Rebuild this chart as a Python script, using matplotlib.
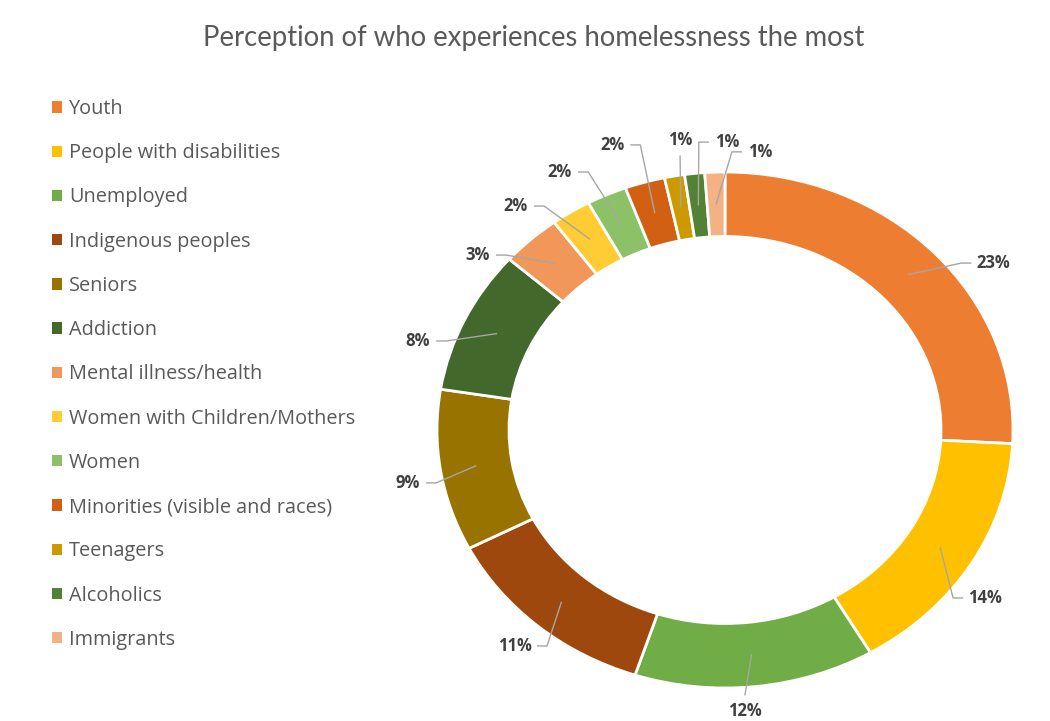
import matplotlib
matplotlib.use("Agg")
import matplotlib.pyplot as plt
from matplotlib.patches import Patch
import numpy as np

categories = ["Youth", "People with disabilities", "Unemployed", "Indigenous peoples",
              "Seniors", "Addiction", "Mental illness/health", "Women with Children/Mothers",
              "Women", "Minorities (visible and races)", "Teenagers", "Alcoholics", "Immigrants"]
values = [23, 14, 12, 11, 9, 8, 3, 2, 2, 2, 1, 1, 1]
labels = [f"{v}%" for v in values]

colors = ["#ED7D31", "#FFC000", "#70AD47", "#9E480E", "#997300", "#43682B", "#F1975A",
          "#FFCD33", "#8CC168", "#D26012", "#CC9A00", "#548235", "#F4B183"]

# label positions (normalized ellipse coords) - layout only
label_xy = [(0.931, 0.647), (0.903, -0.651), (0.069, -1.089), (-0.729, -0.837),
            (-1.101, -0.205), (-1.066, 0.345), (-0.858, 0.678), (-0.726, 0.868),
            (-0.573, 1.0), (-0.392, 1.105), (-0.156, 1.124), (0.007, 1.116), (0.122, 1.078)]

W, H = 1050, 721
fig = plt.figure(figsize=(W / 100, H / 100), dpi=100)
fig.patch.set_facecolor("white")

cx, cy = 725, 430
rx, ry = 288, 258
lim = 1.4
ax = fig.add_axes([(cx - rx * lim) / W, (H - cy - ry * lim) / H, 2 * rx * lim / W, 2 * ry * lim / H])
wedges, _ = ax.pie(values, colors=colors, startangle=90, counterclock=False, radius=1.0,
                   wedgeprops=dict(width=0.25, edgecolor="white", linewidth=2))
ax.set_aspect("auto")
ax.set_xlim(-lim, lim)
ax.set_ylim(-lim, lim)
ax.axis("off")

lab_font = dict(family=["Open Sans", "DejaVu Sans"], fontsize=12, fontweight="bold", color="#404040")
for w, lab, (lx, ly) in zip(wedges, labels, label_xy):
    mid = np.deg2rad((w.theta1 + w.theta2) / 2)
    axp, ayp = 0.875 * np.cos(mid), 0.875 * np.sin(mid)
    ax.text(lx, ly, lab, ha="center", va="center", **lab_font)
    halfw = 0.013 * len(lab) + 0.025
    dx, dy = lx - axp, ly - ayp
    if abs(dx) > 0.06:
        s = np.sign(dx)
        ex = lx - s * (halfw + 0.012)
        ey = ly
        elx = ex - s * 0.035
        xs, ys = [axp, elx, ex], [ayp, ey, ey]
    else:
        s = np.sign(dy)
        ex, ey = lx, ly - s * 0.06
        xs, ys = [axp, ex], [ayp, ey]
    ax.plot(xs, ys, color="#A6A6A6", lw=1, solid_capstyle="butt")

# title
title = fig.text(534 / W, 1 - 38 / H, "Perception of who experiences homelessness the most",
                 ha="center", va="center", color="#595959", fontsize=17,
                 family=["Liberation Sans Narrow", "Lato", "DejaVu Sans"])
fig.canvas.draw()
bb = title.get_window_extent()
title.set_fontsize(17 * 662 / bb.width)

handles = [Patch(facecolor=c, edgecolor="none") for c in colors]
leg = fig.legend(handles, categories, loc="upper left", bbox_to_anchor=(52 / W, 1 - 99 / H),
                 frameon=False, labelcolor="#595959",
                 prop=dict(family=["Open Sans", "DejaVu Sans"], size=14.3),
                 handlelength=0.5, handleheight=0.5, handletextpad=0.35, labelspacing=1.22,
                 borderaxespad=0, borderpad=0)

fig.savefig("out.png", dpi=100, facecolor="white")
